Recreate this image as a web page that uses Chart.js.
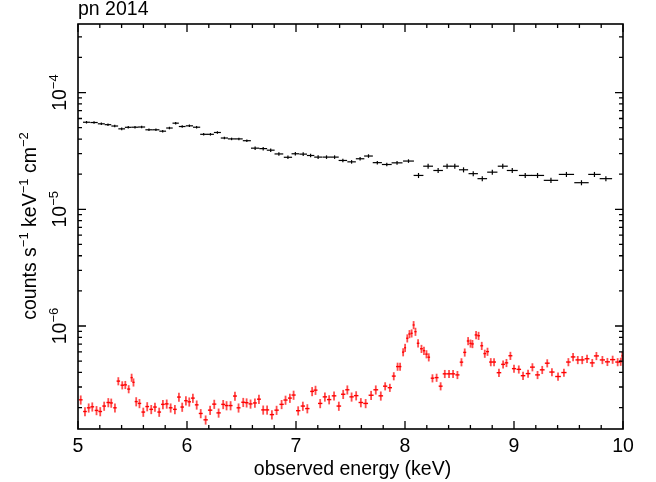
<!DOCTYPE html>
<html><head><meta charset="utf-8">
<script src="https://cdn.jsdelivr.net/npm/chart.js@4"></script>
<style>html,body{margin:0;padding:0;background:#fff;overflow:hidden}</style>
</head><body>
<canvas id="c" width="656" height="482"></canvas>
<script>
// ---------- data ----------
// black spectrum: energy (keV), half bin width (keV), flux, relative error
const blackE = [5.078,5.147,5.214,5.275,5.337,5.401,5.461,5.523,5.584,5.651,5.715,5.777,5.839,5.896,5.956,6.022,6.088,6.153,6.215,6.279,6.343,6.409,6.476,6.549,6.625,6.699,6.768,6.843,6.926,6.994,7.066,7.134,7.203,7.280,7.354,7.430,7.510,7.588,7.665,7.746,7.833,7.927,8.032,8.124,8.212,8.304,8.386,8.457,8.537,8.626,8.709,8.801,8.897,8.984,9.103,9.216,9.339,9.481,9.619,9.738,9.843];
const blackHW = [0.032,0.034,0.032,0.030,0.031,0.031,0.031,0.031,0.032,0.033,0.032,0.031,0.030,0.029,0.031,0.033,0.033,0.032,0.032,0.032,0.033,0.034,0.035,0.037,0.038,0.036,0.036,0.040,0.038,0.035,0.035,0.034,0.036,0.038,0.038,0.039,0.039,0.039,0.040,0.042,0.045,0.050,0.050,0.045,0.045,0.044,0.038,0.038,0.042,0.043,0.044,0.047,0.046,0.050,0.058,0.060,0.066,0.070,0.066,0.057,0.057];
const blackFlux = [5.57e-5,5.54e-5,5.40e-5,5.31e-5,5.17e-5,4.89e-5,5.04e-5,5.05e-5,5.07e-5,4.80e-5,4.80e-5,4.67e-5,4.97e-5,5.47e-5,5.12e-5,5.19e-5,5.05e-5,4.39e-5,4.39e-5,4.55e-5,4.08e-5,4.01e-5,4.01e-5,3.87e-5,3.34e-5,3.31e-5,3.21e-5,2.98e-5,2.79e-5,2.99e-5,2.97e-5,2.89e-5,2.80e-5,2.80e-5,2.80e-5,2.62e-5,2.55e-5,2.71e-5,2.86e-5,2.51e-5,2.42e-5,2.50e-5,2.59e-5,1.95e-5,2.34e-5,2.15e-5,2.34e-5,2.34e-5,2.18e-5,2.02e-5,1.83e-5,2.08e-5,2.34e-5,2.15e-5,1.95e-5,1.95e-5,1.77e-5,1.99e-5,1.69e-5,1.99e-5,1.83e-5];
const blackErr = [0.025,0.025,0.025,0.025,0.025,0.025,0.025,0.025,0.025,0.025,0.025,0.025,0.025,0.025,0.025,0.025,0.025,0.025,0.025,0.025,0.025,0.025,0.025,0.025,0.035,0.035,0.035,0.035,0.035,0.035,0.035,0.035,0.035,0.035,0.035,0.035,0.035,0.035,0.035,0.035,0.035,0.035,0.035,0.05,0.05,0.05,0.05,0.05,0.05,0.05,0.05,0.05,0.05,0.05,0.05,0.05,0.05,0.05,0.05,0.05,0.05];

// red spectrum
const redE = [5.025,5.064,5.098,5.131,5.170,5.204,5.240,5.278,5.305,5.339,5.370,5.406,5.434,5.465,5.492,5.509,5.534,5.564,5.599,5.635,5.672,5.706,5.745,5.779,5.814,5.850,5.889,5.926,5.956,5.990,6.021,6.054,6.089,6.126,6.171,6.212,6.250,6.290,6.332,6.363,6.400,6.440,6.473,6.516,6.547,6.583,6.623,6.660,6.699,6.735,6.779,6.822,6.868,6.904,6.944,6.978,7.020,7.063,7.104,7.148,7.179,7.222,7.265,7.304,7.349,7.393,7.433,7.471,7.510,7.552,7.595,7.639,7.689,7.732,7.778,7.818,7.861,7.897,7.932,7.955,7.983,8.001,8.021,8.041,8.061,8.079,8.096,8.120,8.151,8.174,8.197,8.218,8.252,8.290,8.327,8.365,8.404,8.441,8.481,8.518,8.548,8.579,8.601,8.619,8.652,8.675,8.704,8.732,8.757,8.787,8.817,8.862,8.900,8.931,8.967,9.000,9.044,9.083,9.129,9.169,9.216,9.259,9.305,9.348,9.404,9.458,9.499,9.542,9.585,9.626,9.670,9.718,9.756,9.811,9.857,9.905,9.951,9.979,9.993];
const redHW = [0.017,0.017,0.017,0.017,0.017,0.017,0.017,0.017,0.015,0.016,0.016,0.016,0.015,0.014,0.010,0.010,0.014,0.016,0.017,0.017,0.017,0.017,0.017,0.017,0.017,0.017,0.017,0.017,0.016,0.016,0.016,0.017,0.017,0.018,0.020,0.020,0.019,0.020,0.018,0.017,0.018,0.018,0.018,0.018,0.017,0.018,0.018,0.018,0.018,0.019,0.020,0.020,0.020,0.019,0.018,0.019,0.020,0.020,0.020,0.018,0.018,0.020,0.020,0.020,0.021,0.021,0.020,0.019,0.020,0.021,0.021,0.022,0.023,0.022,0.021,0.020,0.020,0.018,0.014,0.012,0.010,0.009,0.010,0.010,0.009,0.009,0.010,0.012,0.013,0.011,0.011,0.012,0.016,0.018,0.018,0.019,0.019,0.019,0.019,0.016,0.014,0.012,0.010,0.012,0.013,0.012,0.013,0.013,0.014,0.015,0.018,0.021,0.018,0.016,0.018,0.019,0.021,0.021,0.021,0.022,0.022,0.022,0.022,0.024,0.026,0.024,0.021,0.021,0.021,0.021,0.022,0.022,0.023,0.024,0.023,0.024,0.022,0.015,0.008];
const redFlux = [2.33e-7,1.85e-7,1.99e-7,2.03e-7,1.89e-7,1.85e-7,2.06e-7,2.21e-7,2.19e-7,1.99e-7,3.37e-7,3.11e-7,3.13e-7,2.88e-7,3.61e-7,3.29e-7,2.25e-7,2.17e-7,1.83e-7,2.04e-7,1.93e-7,2.02e-7,1.83e-7,2.13e-7,2.15e-7,1.99e-7,1.93e-7,2.46e-7,2.02e-7,2.29e-7,2.24e-7,2.41e-7,2.11e-7,1.78e-7,1.57e-7,1.90e-7,2.14e-7,1.80e-7,2.13e-7,2.08e-7,2.08e-7,2.51e-7,1.99e-7,2.22e-7,2.20e-7,2.15e-7,2.19e-7,2.36e-7,1.91e-7,1.91e-7,1.74e-7,1.90e-7,2.13e-7,2.32e-7,2.41e-7,2.56e-7,1.88e-7,2.06e-7,1.96e-7,2.75e-7,2.82e-7,2.17e-7,2.47e-7,2.34e-7,2.52e-7,2.06e-7,2.60e-7,2.84e-7,2.47e-7,2.53e-7,2.21e-7,2.17e-7,2.55e-7,2.84e-7,2.52e-7,3.05e-7,2.96e-7,3.72e-7,4.49e-7,4.49e-7,5.97e-7,6.51e-7,7.85e-7,8.54e-7,8.66e-7,1.02e-6,8.94e-7,7.11e-7,6.38e-7,6.14e-7,5.74e-7,5.40e-7,3.57e-7,3.61e-7,3.05e-7,3.89e-7,3.89e-7,3.89e-7,3.81e-7,4.90e-7,5.94e-7,7.44e-7,7.09e-7,7.02e-7,8.38e-7,8.25e-7,6.77e-7,5.80e-7,6.03e-7,4.91e-7,4.91e-7,3.98e-7,4.69e-7,4.83e-7,5.56e-7,4.31e-7,4.25e-7,3.75e-7,3.91e-7,4.44e-7,3.81e-7,4.21e-7,4.80e-7,4.03e-7,3.69e-7,3.99e-7,4.91e-7,5.43e-7,5.12e-7,5.12e-7,5.24e-7,4.83e-7,5.54e-7,5.12e-7,4.93e-7,5.15e-7,4.91e-7,4.95e-7,5.54e-7];
const redErr = [0.09,0.09,0.09,0.09,0.09,0.09,0.09,0.09,0.09,0.09,0.08,0.08,0.08,0.08,0.08,0.08,0.09,0.09,0.09,0.09,0.09,0.09,0.09,0.09,0.09,0.09,0.09,0.09,0.09,0.09,0.09,0.09,0.09,0.09,0.09,0.09,0.09,0.09,0.09,0.09,0.09,0.09,0.09,0.09,0.09,0.09,0.09,0.09,0.09,0.09,0.09,0.09,0.09,0.09,0.09,0.09,0.09,0.09,0.09,0.09,0.09,0.09,0.09,0.09,0.09,0.09,0.09,0.09,0.09,0.09,0.09,0.09,0.09,0.09,0.09,0.08,0.08,0.08,0.08,0.08,0.08,0.08,0.08,0.08,0.08,0.08,0.08,0.08,0.08,0.08,0.08,0.08,0.08,0.08,0.08,0.08,0.08,0.08,0.08,0.08,0.08,0.08,0.08,0.08,0.08,0.08,0.08,0.08,0.08,0.08,0.08,0.08,0.08,0.08,0.08,0.08,0.08,0.08,0.08,0.08,0.08,0.08,0.08,0.08,0.08,0.08,0.08,0.08,0.08,0.08,0.08,0.08,0.08,0.08,0.08,0.08,0.08,0.08,0.08];

// axis
const xMin = 5, xMax = 10;
const yMin = 1.31e-7, yMax = 3.87e-4;
const xMajorTicks = [5, 6, 7, 8, 9, 10];
const yDecades = [-6, -5, -4];
const titleText = 'pn 2014';
const xTitle = 'observed energy (keV)';
const yTitleParts = [['counts s', false], ['\u22121', true], [' keV', false], ['\u22121', true], [' cm', false], ['\u22122', true]];

// ---------- build datasets ----------
function build(E, HW, F, ER) {
  return E.map((e, i) => ({ x: e, y: F[i], xl: e - HW[i], xh: e + HW[i], yl: F[i] * (1 - ER[i]), yh: F[i] * (1 + ER[i]) }));
}

const FONT = '"Liberation Sans", Arial, Helvetica, sans-serif';
const BIG = 19.5, SMALL = 13, RISE = 8;

const errorBars = {
  id: 'errorBars',
  afterDatasetsDraw(chart) {
    const { ctx, chartArea: a, scales: { x, y } } = chart;
    ctx.save();
    ctx.beginPath(); ctx.rect(a.left, a.top, a.right - a.left, a.bottom - a.top); ctx.clip();
    chart.data.datasets.forEach(ds => {
      const st = ds.barStyle;
      ds.data.forEach(p => {
        const px = x.getPixelForValue(p.x), py = y.getPixelForValue(p.y);
        const x1 = x.getPixelForValue(p.xl), x2 = x.getPixelForValue(p.xh);
        const y1 = y.getPixelForValue(p.yl), y2 = y.getPixelForValue(p.yh);
        ctx.strokeStyle = st.v; ctx.lineWidth = st.vw;
        ctx.beginPath(); ctx.moveTo(px, y1); ctx.lineTo(px, y2); ctx.stroke();
        ctx.strokeStyle = st.h; ctx.lineWidth = st.hw;
        ctx.beginPath(); ctx.moveTo(x1, py); ctx.lineTo(x2, py); ctx.stroke();
      });
    });
    ctx.restore();
  }
};

function richWidth(ctx, parts) {
  let w = 0;
  parts.forEach(([t, sup]) => { ctx.font = (sup ? SMALL : BIG) + 'px ' + FONT; w += ctx.measureText(t).width; });
  return w;
}
function drawRich(ctx, parts, x0, y0) {
  let xx = x0;
  parts.forEach(([t, sup]) => {
    ctx.font = (sup ? SMALL : BIG) + 'px ' + FONT;
    ctx.fillText(t, xx, sup ? y0 - RISE : y0);
    xx += ctx.measureText(t).width;
  });
}

const frame = {
  id: 'frame',
  afterDraw(chart) {
    const { ctx, chartArea: a, scales: { x, y } } = chart;
    ctx.save();
    ctx.strokeStyle = '#000'; ctx.fillStyle = '#000';
    ctx.lineWidth = 1.6;
    ctx.strokeRect(a.left, a.top, a.right - a.left, a.bottom - a.top);
    ctx.lineWidth = 1.3;
    ctx.beginPath();
    for (let k = 0; k <= 25; k++) {
      const v = xMin + k * 0.2;
      const px = x.getPixelForValue(v);
      const L = k % 5 === 0 ? 8 : 4;
      ctx.moveTo(px, a.bottom); ctx.lineTo(px, a.bottom - L);
      ctx.moveTo(px, a.top); ctx.lineTo(px, a.top + L);
    }
    for (let d = -7; d <= -3; d++) {
      for (let m = 1; m <= 9; m++) {
        const v = m * Math.pow(10, d);
        if (v < yMin || v > yMax) continue;
        const py = y.getPixelForValue(v);
        const L = m === 1 ? 8 : 4;
        ctx.moveTo(a.left, py); ctx.lineTo(a.left + L, py);
        ctx.moveTo(a.right, py); ctx.lineTo(a.right - L, py);
      }
    }
    ctx.stroke();

    ctx.font = BIG + 'px ' + FONT;
    ctx.textAlign = 'center'; ctx.textBaseline = 'alphabetic';
    xMajorTicks.forEach(v => ctx.fillText(String(v), x.getPixelForValue(v), 452));
    ctx.fillText(xTitle, (a.left + a.right) / 2 + 2, 475);
    ctx.textAlign = 'left';
    ctx.fillText(titleText, a.left, 15);

    yDecades.forEach(d => {
      const parts = [['10', false], ['\u2212' + Math.abs(d), true]];
      const w = richWidth(ctx, parts);
      const py = y.getPixelForValue(Math.pow(10, d));
      ctx.save();
      ctx.translate(66, py);
      ctx.rotate(-Math.PI / 2);
      ctx.textAlign = 'left';
      drawRich(ctx, parts, -w / 2, 0);
      ctx.restore();
    });
    {
      const w = richWidth(ctx, yTitleParts);
      ctx.save();
      ctx.translate(36, 226);
      ctx.rotate(-Math.PI / 2);
      ctx.textAlign = 'left';
      drawRich(ctx, yTitleParts, -w / 2, 0);
      ctx.restore();
    }
    ctx.restore();
  }
};

new Chart(document.getElementById('c'), {
  type: 'scatter',
  data: {
    datasets: [
      { label: 'spectrum', data: build(blackE, blackHW, blackFlux, blackErr), pointRadius: 0, borderColor: '#000',
        barStyle: { v: '#000', vw: 1.2, h: '#000', hw: 1.2 } },
      { label: 'residual', data: build(redE, redHW, redFlux, redErr), pointRadius: 0, borderColor: '#f00',
        barStyle: { v: 'rgba(255,0,0,0.7)', vw: 1.8, h: '#f00', hw: 1.4 } }
    ]
  },
  options: {
    responsive: false, animation: false, devicePixelRatio: 1,
    layout: { padding: { left: 78, right: 33, top: 24, bottom: 53 } },
    plugins: { legend: { display: false }, tooltip: { enabled: false } },
    scales: {
      x: { type: 'linear', min: xMin, max: xMax, display: false },
      y: { type: 'logarithmic', min: yMin, max: yMax, display: false }
    }
  },
  plugins: [errorBars, frame]
});
</script>
</body></html>
